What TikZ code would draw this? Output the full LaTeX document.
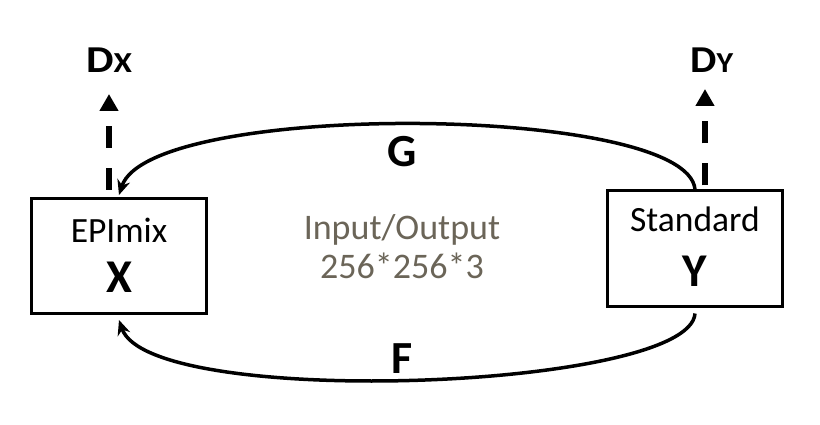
\documentclass[tikz,border=0pt]{standalone}
\usepackage{fontspec}
\usepackage{graphicx}
\setmainfont{Carlito}
\usetikzlibrary{arrows.meta, positioning}
\definecolor{ioGray}{HTML}{6B6558}

\begin{document}
\begin{tikzpicture}[
        x=1pt, y=-1pt,
        box/.style={rectangle, draw=black, line width=3pt, minimum width=175pt, minimum height=115pt},
        domname/.style={font=\fontsize{35.5}{40}\selectfont, anchor=base},
        domvar/.style={font=\fontsize{47}{50}\selectfont\bfseries, anchor=base},
        map/.style={font=\fontsize{46}{50}\selectfont\bfseries, anchor=base},
        disc/.style={font=\bfseries, anchor=base west, inner sep=0pt},
        io/.style={font=\fontsize{36}{40}\selectfont, text=ioGray, anchor=base},
        gen/.style={line width=3.5pt, -{Stealth[length=15pt, width=13pt]}},
        dline/.style={line width=6pt, dash pattern=on 22pt off 20pt, -{Triangle[length=17pt, width=18pt]}}
    ]
        \useasboundingbox (0,0) rectangle (820,425);

        % --- Domains ---
        \node[box] (X) at (119,256) {};
        \node[box] (Y) at (695,248.5) {};
        \node[domname] (xname) at (119,243) {EPImix};
        \node[domvar]  (xvar)  at (119,292) {X};
        \node[domname] (yname) at (695,232) {Standard};
        \node[domvar]  (yvar)  at (695,287) {Y};

        % --- Discriminators ---
        \node[disc] (dx) at (86,73) {\scalebox{1.15}[1]{\fontsize{38}{40}\selectfont D\fontsize{29}{30}\selectfont X}};
        \node[disc] (dy) at (690,73) {\scalebox{1.1}[1]{\fontsize{38}{40}\selectfont D\fontsize{29}{30}\selectfont Y}};
        \coordinate (dxtip) at (109,94);
        \coordinate (dytip) at (705,89);
        \draw[dline] ([xshift=-10pt, yshift=7pt]X.north) -- (dxtip);
        \draw[dline] ([xshift=10pt, yshift=4pt]Y.north) -- (dytip);

        % --- Generators ---
        \draw[gen] (Y.north) .. controls (688,104) and (150,100) .. ([yshift=2pt]X.north);
        \draw[gen] ([yshift=-6pt]Y.south) .. controls (690,390) and (150,410) .. ([yshift=-5pt]X.south);
        \node[map] (G) at (402,167) {G};
        \node[map] (F) at (402,373) {F};

        % --- Image size ---
        \node[io] (io1) at (402,240) {Input/Output};
        \node[io] (io2) at (402,278) {256*256*3};
    \end{tikzpicture}
\end{document}
